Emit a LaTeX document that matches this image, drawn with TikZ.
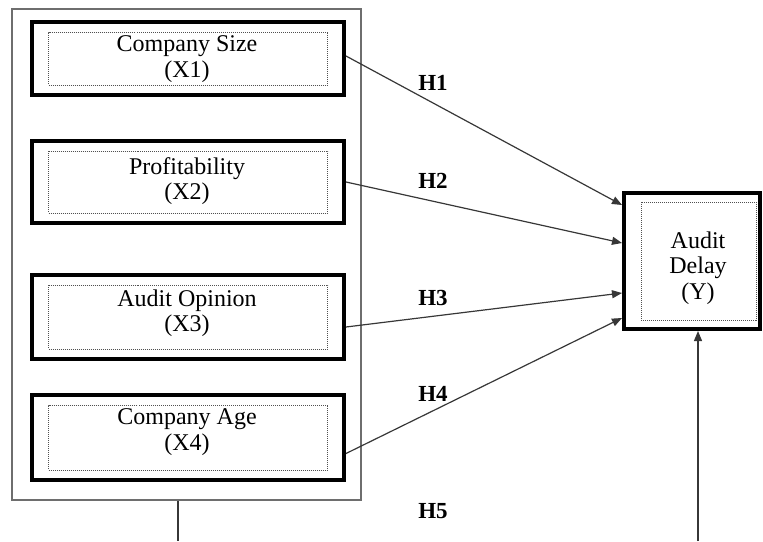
\documentclass[tikz,border=0pt]{standalone}
\usepackage{fontspec}
\setmainfont{Liberation Serif}
\usepackage{tikz}
\usetikzlibrary{arrows.meta, positioning, calc}
\usepackage{xcolor}
\definecolor{framegray}{RGB}{110,110,110}
\definecolor{linegray}{RGB}{55,55,55}
\definecolor{dotgray}{RGB}{80,80,80}
\begin{document}
\begin{tikzpicture}[x=1pt, y=-1pt,
  varbox/.style={draw, line width=4pt, minimum width=312pt, inner sep=0pt},
  dotbox/.style={draw=dotgray, line width=0.9pt, dash pattern=on 1pt off 1pt, inner sep=0pt},
  vartext/.style={align=center, font=\fontsize{24}{25.5}\selectfont, inner sep=0pt},
  conn/.style={linegray, line width=1.2pt, -{Triangle[length=10pt, width=8pt]}},
  hlabel/.style={font=\fontsize{23}{25}\selectfont\bfseries}]
  \useasboundingbox (0,0) rectangle (763,541);
  \node[draw=framegray, line width=1.5pt, minimum width=349pt, minimum height=491pt] (grp) at (186.5,254.5) {};
  \foreach \i/\name/\yc/\h/\ty in {1/Company Size/58.5/73/59, 2/Profitability/182/82/181, 3/Audit Opinion/317/84/313, 4/Company Age/437.5/85/432} {
    \node[varbox, minimum height=\h] (x\i) at (188,\yc) {};
    \node[dotbox, minimum width=279pt, minimum height=\h-20] (x\i in) at (x\i) {};
    \node[vartext] (x\i txt) at (187,\ty) {\name\\(X\i)};
  }
  \node[varbox, minimum width=136pt, minimum height=136pt] (y) at (692,261) {};
  \node[dotbox, minimum width=115pt, minimum height=118pt] (yin) at (698.5,261) {};
  \node[vartext] (ytxt) at (698,268) {Audit\\Delay\\(Y)};
  % hypotheses
  \draw[conn] ([yshift=2.5]x1.east) -- ([yshift=56]y.west);
  \draw[conn] (x2.east) -- ([yshift=18]y.west);
  \draw[conn] ([yshift=-10]x3.east) -- ([yshift=-32]y.west);
  \draw[conn] ([yshift=-16]x4.east) -- ([yshift=-57]y.west);
  \node[hlabel] (h1) at (433,83) {H1};
  \node[hlabel] (h2) at (433,181) {H2};
  \node[hlabel] (h3) at (433,298) {H3};
  \node[hlabel] (h4) at (433,394) {H4};
  \node[hlabel] (h5) at (433,511) {H5};
  \coordinate (b1) at (178,541);
  \coordinate (b2) at (698,541);
  \draw[linegray, line width=1.2pt] (b1 |- grp.south) -- (b1);
  \draw[conn] (b2) -- (b2 |- y.south);
\end{tikzpicture}
\end{document}
